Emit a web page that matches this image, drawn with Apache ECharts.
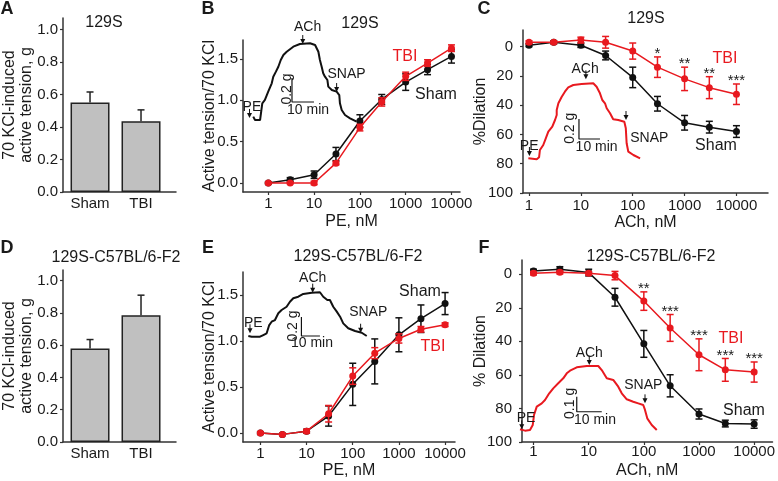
<!DOCTYPE html>
<html><head><meta charset="utf-8">
<script src="https://cdn.jsdelivr.net/npm/echarts@6/dist/echarts.min.js"></script>
<style>html,body{margin:0;padding:0;background:#fff}#c{width:778px;height:481px}</style>
</head><body><div id="c"></div>
<script>
// ---------------- DATA ----------------
const barCategories = ['Sham', 'TBI'];
const barA = [0.55, 0.435];
const barAErr = [0.065, 0.07];
const barD = [0.58, 0.785];
const barDErr = [0.055, 0.125];

const concPE = [1, 3, 10, 30, 100, 300, 1000, 3000, 10000];
const concACh = [1, 3, 10, 30, 100, 300, 1000, 3000, 10000];
const decadeTicks = [1, 10, 100, 1000, 10000];

// B: 129S, PE contraction
const shamB = [0.00, 0.04, 0.10, 0.35, 0.75, 1.01, 1.22, 1.37, 1.53];
const shamBErr = [0.01, 0.025, 0.045, 0.08, 0.075, 0.06, 0.10, 0.06, 0.08];
const tbiB = [0.00, 0.00, 0.00, 0.24, 0.67, 0.98, 1.29, 1.45, 1.63];
const tbiBErr = [0.01, 0.01, 0.02, 0.02, 0.04, 0.05, 0.05, 0.04, 0.04];

// C: 129S, ACh dilation
const shamC = [-1, -3, -1, 6, 21, 39, 52, 55, 58];
const shamCErr = [1, 1, 1.5, 3, 7, 5, 5, 4, 4];
const tbiC = [-3, -3, -4.5, -3, 3, 14, 22, 28, 32.5];
const tbiCErr = [1, 1, 2, 4, 5.5, 7, 8, 7.5, 7];
const starsC = ['', '', '', '', '', '*', '**', '**', '***'];

// E: F2, PE contraction
const shamE = [0.00, -0.015, 0.02, 0.185, 0.53, 0.78, 1.07, 1.245, 1.41];
const shamEErr = [0.01, 0.01, 0.02, 0.11, 0.23, 0.245, 0.185, 0.15, 0.12];
const tbiE = [0.00, -0.015, 0.02, 0.21, 0.62, 0.87, 1.03, 1.13, 1.18];
const tbiEErr = [0.01, 0.01, 0.02, 0.09, 0.09, 0.06, 0.05, 0.03, 0.02];

// F: F2, ACh dilation
const shamF = [-2, -3, -1, 13.7, 41.5, 66.5, 83.3, 89, 89.3];
const shamFErr = [1, 1.5, 2, 5.3, 8, 6.6, 3, 2, 2.5];
const tbiF = [-0.6, -1.2, -0.6, 0.8, 16, 32, 48, 57, 58.3];
const tbiFErr = [1, 1, 1, 2.5, 5.5, 8, 9.5, 6.8, 6];
const starsF = ['', '', '', '', '**', '***', '***', '***', '***'];

// Inset traces: [time (min), tension (g)]
const traceB = [[3.3,0.078],[4.1,0.05],[6.4,0.05],[6.8,0.106],[7.4,0.189],[8.6,0.217],[10.1,0.286],[11.7,0.356],[12.4,0.411],[13.6,0.453],[14.7,0.494],[15.8,0.55],[17.0,0.592],[18.5,0.619],[21.5,0.661],[24.5,0.683],[29.1,0.689],[31.4,0.675],[32.9,0.619],[33.6,0.55],[34.4,0.494],[35.1,0.439],[35.9,0.411],[37.0,0.383],[37.4,0.328],[39.0,0.30],[41.2,0.286],[42.4,0.258],[42.7,0.189],[43.5,0.133],[45.0,0.092],[47.3,0.064],[50.3,0.036]];
const traceC = [[1.6,0.037],[5.6,0.027],[6.7,0.047],[7.1,0.12],[8.7,0.17],[9.9,0.237],[11.1,0.303],[13.0,0.353],[14.3,0.42],[15.1,0.47],[15.1,0.52],[15.9,0.587],[17.5,0.653],[19.0,0.703],[20.6,0.747],[23.0,0.77],[27.0,0.78],[32.5,0.787],[34.1,0.753],[35.7,0.687],[36.8,0.62],[38.1,0.587],[38.9,0.537],[40.5,0.487],[42.0,0.427],[44.4,0.42],[47.3,0.403],[48.0,0.337],[48.4,0.187],[49.2,0.103],[51.6,0.07],[54.8,0.037]];
const traceE = [[1.8,0.095],[3.6,0.087],[8.1,0.087],[9.9,0.105],[11.7,0.123],[13.1,0.21],[14.4,0.245],[16.2,0.263],[18.0,0.334],[19.8,0.368],[22.5,0.403],[24.3,0.456],[26.1,0.492],[28.8,0.508],[31.5,0.537],[36.1,0.551],[40.5,0.555],[42.3,0.508],[44.5,0.474],[45.9,0.474],[47.7,0.403],[49.6,0.351],[51.4,0.298],[53.1,0.228],[55.8,0.176],[59.5,0.147],[63.1,0.129],[65.8,0.095]];
const traceF = [[2.0,0.038],[4.0,0.029],[6.0,0.033],[7.1,0.067],[7.6,0.133],[8.7,0.189],[10.7,0.211],[12.0,0.233],[13.7,0.278],[15.3,0.311],[17.3,0.345],[19.3,0.378],[20.7,0.411],[22.0,0.429],[24.7,0.451],[28.7,0.46],[33.3,0.46],[34.7,0.433],[36.7,0.378],[39.3,0.367],[41.3,0.322],[42.7,0.278],[44.7,0.238],[47.3,0.222],[49.3,0.211],[51.3,0.20],[52.0,0.167],[52.9,0.111],[54.7,0.067],[56.7,0.033]];

// Inset scale bars (vertical top, corner, horizontal end) in trace units
const scaleB = [[20.9,0.4],[20.9,0.2],[30.9,0.2]];
const scaleC = [[25.7,0.43],[25.7,0.23],[35.7,0.23]];
const scaleE = [[30.5,0.295],[30.5,0.095],[40.5,0.095]];
const scaleF = [[24.7,0.255],[24.7,0.155],[34.7,0.155]];

// Drug-addition arrows and labels in trace units
const arrowsB = [[1.6,0.067],[25.8,0.683],[41.2,0.283]];
const labelsB = [[2.7,0.158,'PE'],[28.0,0.825,'ACh'],[45.7,0.433,'SNAP'],[28.2,0.133,'10 min']];
const vlabelsB = [[18.5,0.308,'0.2 g']];
const arrowsC = [[2.1,0.06],[29.0,0.827],[48.1,0.42]];
const labelsC = [[2.0,0.163,'PE'],[28.6,0.927,'ACh'],[59.2,0.237,'SNAP'],[34.1,0.153,'10 min']];
const vlabelsC = [[21.4,0.337,'0.2 g']];
const arrowsE = [[2.7,0.123],[36.6,0.551],[62.5,0.129]];
const labelsE = [[4.5,0.228,'PE'],[36.6,0.702,'ACh'],[66.6,0.35,'SNAP'],[36.2,0.021,'10 min']];
const vlabelsE = [[26.1,0.2,'0.2 g']];
const arrowsF = [[2.7,0.038],[29.7,0.467],[52.0,0.211]];
const labelsF = [[4.4,0.111,'PE'],[29.7,0.544,'ACh'],[51.3,0.333,'SNAP'],[32,0.1,'10 min']];
const vlabelsF = [[22,0.211,'0.1 g']];

// ---------------- STYLE ----------------
const FONT = "'Liberation Sans', Arial, Helvetica, sans-serif";
const TXT = '#1a1a1a', AXIS = '#333333', BLACK = '#111111', RED = '#e8191f';
const TICK_FS = 15;

function logXAxis(gi, min, max, name, nameGap, margin) {
  return { type: 'log', logBase: 10, gridIndex: gi, min, max,
    axisLine: { show: true, onZero: false, lineStyle: { color: AXIS, width: 1.5 } },
    axisTick: { show: true, customValues: decadeTicks, length: 3, lineStyle: { color: AXIS, width: 1.2 } },
    axisLabel: { customValues: decadeTicks, fontSize: TICK_FS, color: TXT, fontFamily: FONT, margin,
      formatter: v => String(Math.round(v)) },
    splitLine: { show: false }, minorTick: { show: false }, minorSplitLine: { show: false },
    name, nameLocation: 'middle', nameGap, nameMoveOverlap: false,
    nameTextStyle: { fontSize: 16, color: TXT, fontFamily: FONT } };
}
function linYAxis(gi, min, max, ticks, digits, name, nameGap, inverse, margin, lh) {
  return { type: 'value', gridIndex: gi, min, max, inverse: !!inverse,
    axisLine: { show: true, onZero: false, lineStyle: { color: AXIS, width: 1.5 } },
    axisTick: { show: true, customValues: ticks, length: 3, lineStyle: { color: AXIS, width: 1.2 } },
    axisLabel: { customValues: ticks, fontSize: TICK_FS, color: TXT, fontFamily: FONT, margin,
      formatter: v => Number(v).toFixed(digits) },
    splitLine: { show: false },
    name, nameLocation: 'middle', nameGap, nameMoveOverlap: false,
    nameTextStyle: { fontSize: 16, color: TXT, fontFamily: FONT, lineHeight: lh || 18 } };
}
function barXAxis(gi) {
  return { type: 'value', gridIndex: gi, min: -0.53, max: 1.686,
    axisLine: { show: true, onZero: false, lineStyle: { color: AXIS, width: 1.5 } },
    axisTick: { show: false },
    axisLabel: { customValues: [0, 1], fontSize: TICK_FS, color: TXT, fontFamily: FONT, margin: 4,
      formatter: v => barCategories[Math.round(v)] },
    splitLine: { show: false } };
}
function hiddenAxis(gi, max) {
  return { type: 'value', gridIndex: gi, min: 0, max, show: false, splitLine: { show: false } };
}

function errSeries(ai, xs, ys, es, color, upperOnly, z) {
  return { type: 'custom', xAxisIndex: ai, yAxisIndex: ai, silent: true, z, clip: false,
    data: xs.map((x, i) => [x, ys[i], es[i]]),
    renderItem(params, api) {
      const x = api.value(0), y = api.value(1), e = api.value(2);
      const a = api.coord([x, y + e]);
      const b = api.coord([x, upperOnly ? y : y - e]);
      const w = 3.5, st = { stroke: color, lineWidth: 1.5 };
      const ch = [
        { type: 'line', shape: { x1: a[0], y1: a[1], x2: b[0], y2: b[1] }, style: st },
        { type: 'line', shape: { x1: a[0] - w, y1: a[1], x2: a[0] + w, y2: a[1] }, style: st }
      ];
      if (!upperOnly) ch.push({ type: 'line', shape: { x1: b[0] - w, y1: b[1], x2: b[0] + w, y2: b[1] }, style: st });
      return { type: 'group', children: ch };
    } };
}
function lineSeries(ai, xs, ys, color, z) {
  return { type: 'line', xAxisIndex: ai, yAxisIndex: ai, z,
    data: xs.map((x, i) => [x, ys[i]]), symbol: 'circle', symbolSize: 7, showSymbol: true,
    lineStyle: { color, width: 1.5 }, itemStyle: { color } };
}
function starSeries(ai, xs, ys, es, stars) {
  return { type: 'custom', xAxisIndex: ai, yAxisIndex: ai, silent: true, z: 10, clip: false,
    data: xs.map((x, i) => [x, ys[i] - es[i], stars[i]]),
    renderItem(params, api) {
      const lab = stars[params.dataIndex];
      if (!lab) return null;
      const p = api.coord([api.value(0), api.value(1)]);
      return { type: 'text', style: { x: p[0], y: p[1] - 3, text: lab, fill: TXT,
        font: '15px ' + FONT, align: 'center', verticalAlign: 'middle' } };
    } };
}
function traceSeries(gi, data, color) {
  return { type: 'line', xAxisIndex: gi, yAxisIndex: gi, z: 1, silent: true, data,
    showSymbol: false, symbol: 'none', lineStyle: { color, width: 2 } };
}
function scaleSeries(gi, data) {
  return { type: 'line', xAxisIndex: gi, yAxisIndex: gi, z: 1, silent: true, data,
    showSymbol: false, symbol: 'none', lineStyle: { color: BLACK, width: 1.2 } };
}
function arrowSeries(gi, data) {
  return { type: 'custom', xAxisIndex: gi, yAxisIndex: gi, z: 2, silent: true, clip: false, data,
    renderItem(params, api) {
      const p = api.coord([api.value(0), api.value(1)]);
      return { type: 'group', children: [
        { type: 'line', shape: { x1: p[0], y1: p[1] - 9, x2: p[0], y2: p[1] - 3 }, style: { stroke: BLACK, lineWidth: 1 } },
        { type: 'polygon', shape: { points: [[p[0] - 2.5, p[1] - 5], [p[0] + 2.5, p[1] - 5], [p[0], p[1]]] }, style: { fill: BLACK } }
      ] };
    } };
}
function textSeries(gi, data, rotate) {
  return { type: 'custom', xAxisIndex: gi, yAxisIndex: gi, z: 2, silent: true, clip: false,
    data: data.map(d => [d[0], d[1]]),
    renderItem(params, api) {
      const p = api.coord([api.value(0), api.value(1)]);
      return { type: 'text', x: p[0], y: p[1], rotation: rotate ? Math.PI / 2 : 0,
        style: { x: 0, y: 0, text: data[params.dataIndex][2], fill: TXT, font: '14px ' + FONT,
          align: 'center', verticalAlign: 'middle' } };
    } };
}

// ---------------- LAYOUT ----------------
const grids = [
  { left: 63, top: 18, width: 113, height: 174 },     // 0 A
  { left: 243, top: 40, width: 217, height: 152 },    // 1 B
  { left: 523, top: 30, width: 245, height: 163 },    // 2 C
  { left: 63, top: 270, width: 113, height: 172 },    // 3 D
  { left: 243, top: 272, width: 212, height: 170 },   // 4 E
  { left: 522, top: 260, width: 251, height: 182 },   // 5 F
  { left: 246, top: 30, width: 121, height: 96 },     // 6 inset B
  { left: 525, top: 62, width: 126, height: 100 },    // 7 inset C
  { left: 245, top: 278.5, width: 129.5, height: 66.5 }, // 8 inset E
  { left: 515, top: 345, width: 150, height: 90 }     // 9 inset F
];

const xAxes = [
  barXAxis(0),
  logXAxis(1, 0.28, 15350, 'PE, nM', 22, 4),
  logXAxis(2, 0.766, 40600, 'ACh, nM', 22, 5),
  barXAxis(3),
  logXAxis(4, 0.42, 16400, 'PE, nM', 21, 4),
  logXAxis(5, 0.618, 21500, 'ACh, nM', 21, 2),
  hiddenAxis(6, 55), hiddenAxis(7, 60), hiddenAxis(8, 70), hiddenAxis(9, 60)
];
const yAxes = [
  linYAxis(0, 0, 1.07, [0, 0.2, 0.4, 0.6, 0.8, 1.0], 1, '70 KCl-induced\nactive tension, g', 28, false, 5, 17),
  linYAxis(1, -0.109, 1.729, [0, 0.5, 1.0, 1.5], 1, 'Active tension/70 KCl', 24, false, 5),
  linYAxis(2, -11.4, 100, [0, 20, 40, 60, 80, 100], 0, '%Dilation', 33, true, 10),
  linYAxis(3, 0, 1.066, [0, 0.2, 0.4, 0.6, 0.8, 1.0], 1, '70 KCl-induced\nactive tension, g', 28, false, 5, 17),
  linYAxis(4, -0.098, 1.754, [0, 0.5, 1.0, 1.5], 1, 'Active tension/70 KCl', 24, false, 5),
  linYAxis(5, -8.5, 100, [0, 20, 40, 60, 80, 100], 0, '% Dilation', 32, true, 10),
  hiddenAxis(6, 0.8), hiddenAxis(7, 1.0), hiddenAxis(8, 0.7), hiddenAxis(9, 0.6)
];

const barStyle = { color: '#c0c0c0', borderColor: '#222', borderWidth: 1.5 };
const series = [
  // A
  { type: 'bar', xAxisIndex: 0, yAxisIndex: 0, barWidth: 39, itemStyle: barStyle,
    data: barCategories.map((c, i) => [i, barA[i]]) },
  errSeries(0, [0, 1], barA, barAErr, '#222', true, 3),
  // D
  { type: 'bar', xAxisIndex: 3, yAxisIndex: 3, barWidth: 39, itemStyle: barStyle,
    data: barCategories.map((c, i) => [i, barD[i]]) },
  errSeries(3, [0, 1], barD, barDErr, '#222', true, 3),
  // insets
  traceSeries(6, traceB, BLACK), scaleSeries(6, scaleB), arrowSeries(6, arrowsB), textSeries(6, labelsB), textSeries(6, vlabelsB, true),
  traceSeries(7, traceC, RED), scaleSeries(7, scaleC), arrowSeries(7, arrowsC), textSeries(7, labelsC), textSeries(7, vlabelsC, true),
  traceSeries(8, traceE, BLACK), scaleSeries(8, scaleE), arrowSeries(8, arrowsE), textSeries(8, labelsE), textSeries(8, vlabelsE, true),
  traceSeries(9, traceF, RED), scaleSeries(9, scaleF), arrowSeries(9, arrowsF), textSeries(9, labelsF), textSeries(9, vlabelsF, true),
  // B
  lineSeries(1, concPE, shamB, BLACK, 4), errSeries(1, concPE, shamB, shamBErr, BLACK, false, 4),
  lineSeries(1, concPE, tbiB, RED, 5), errSeries(1, concPE, tbiB, tbiBErr, RED, false, 5),
  // C
  lineSeries(2, concACh, shamC, BLACK, 4), errSeries(2, concACh, shamC, shamCErr, BLACK, false, 4),
  lineSeries(2, concACh, tbiC, RED, 5), errSeries(2, concACh, tbiC, tbiCErr, RED, false, 5),
  starSeries(2, concACh, tbiC, tbiCErr, starsC),
  // E
  lineSeries(4, concPE, shamE, BLACK, 4), errSeries(4, concPE, shamE, shamEErr, BLACK, false, 4),
  lineSeries(4, concPE, tbiE, RED, 5), errSeries(4, concPE, tbiE, tbiEErr, RED, false, 5),
  // F
  lineSeries(5, concACh, shamF, BLACK, 4), errSeries(5, concACh, shamF, shamFErr, BLACK, false, 4),
  lineSeries(5, concACh, tbiF, RED, 5), errSeries(5, concACh, tbiF, tbiFErr, RED, false, 5),
  starSeries(5, concACh, tbiF, tbiFErr, starsF)
];

function txt(x, y, s, size, color, bold) {
  return { type: 'text', x, y, silent: true, z: 20,
    style: { text: s, fill: color || TXT, font: (bold ? 'bold ' : '') + size + 'px ' + FONT,
      align: 'center', verticalAlign: 'middle' } };
}
const graphic = [
  txt(7, 9, 'A', 18, TXT, true), txt(208, 9, 'B', 18, TXT, true), txt(484, 9, 'C', 18, TXT, true),
  txt(7, 248.5, 'D', 18, TXT, true), txt(208, 248.5, 'E', 18, TXT, true), txt(484, 248.5, 'F', 18, TXT, true),
  txt(104, 23, '129S', 16), txt(360, 24, '129S', 16), txt(646, 19, '129S', 16),
  txt(116, 258, '129S-C57BL/6-F2', 16), txt(358, 257, '129S-C57BL/6-F2', 16), txt(651, 257, '129S-C57BL/6-F2', 16),
  txt(405, 57, 'TBI', 16, RED), txt(436, 95, 'Sham', 16),
  txt(725, 59, 'TBI', 16, RED), txt(716, 146, 'Sham', 16),
  txt(420, 292, 'Sham', 16), txt(433, 347, 'TBI', 16, RED),
  txt(731, 339, 'TBI', 16, RED), txt(744, 411, 'Sham', 16)
];

const chart = echarts.init(document.getElementById('c'), null, { renderer: 'canvas' });
chart.setOption({ animation: false, backgroundColor: '#ffffff', textStyle: { fontFamily: FONT },
  grid: grids, xAxis: xAxes, yAxis: yAxes, series, graphic });
</script></body></html>
